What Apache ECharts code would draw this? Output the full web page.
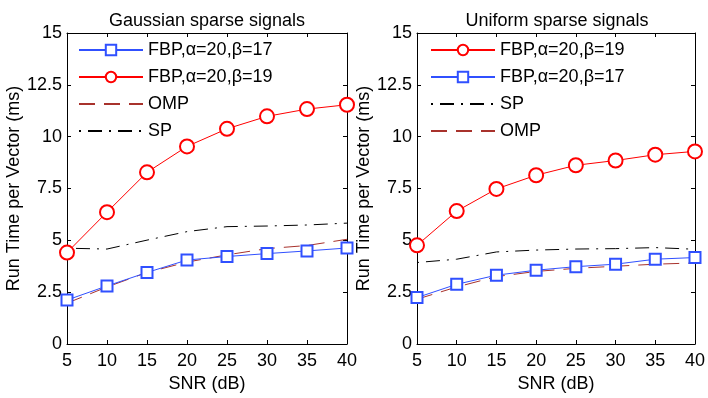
<!DOCTYPE html>
<html>
<head>
<meta charset="utf-8">
<script src="https://cdn.jsdelivr.net/npm/echarts@6/dist/echarts.min.js"></script>
<style>
    body{ margin:0; background:#fff; }
    #main{ width:708px; height:398px; }
</style>
</head>
<body>
<div id="main"></div>
<script>
// SNR values (dB), shared by both panels
var snr = [5, 10, 15, 20, 25, 30, 35, 40];

// Gaussian sparse signals (ms)
var gaussFbp17 = [2.12, 2.80, 3.45, 4.05, 4.22, 4.36, 4.49, 4.63];
var gaussFbp19 = [4.41, 6.36, 8.28, 9.53, 10.38, 10.98, 11.33, 11.54];
var gaussOmp   = [1.97, 2.75, 3.45, 3.95, 4.30, 4.60, 4.75, 5.05];
var gaussSp    = [4.62, 4.58, 5.01, 5.42, 5.66, 5.69, 5.74, 5.83];

// Uniform sparse signals (ms)
var uniFbp19 = [4.76, 6.41, 7.48, 8.14, 8.62, 8.85, 9.13, 9.29];
var uniFbp17 = [2.24, 2.88, 3.32, 3.56, 3.73, 3.85, 4.09, 4.17];
var uniSp    = [3.93, 4.09, 4.44, 4.53, 4.58, 4.60, 4.65, 4.57];
var uniOmp   = [2.16, 2.75, 3.25, 3.50, 3.65, 3.75, 3.85, 3.91];

var yTicks = [0, 2.5, 5, 7.5, 10, 12.5, 15];

var FONT = 'Liberation Sans';
var FS = 18;
var BLUE = '#3050ff', RED = '#ff0000', BROWN = '#a8322c', BLACK = '#000';

function pairs(ys){
    return snr.map(function(x, i){ return [x, ys[i]]; });
}

function mk(name, ys, idx, style){
    return {
        name: name,
        type: 'line',
        xAxisIndex: idx * 2,
        yAxisIndex: idx * 2,
        data: pairs(ys),
        animation: false,
        z: style.z || 2,
        lineStyle: { color: style.color, width: 1, type: style.dash || 'solid' },
        itemStyle: { color: style.color, borderWidth: 1 },
        emphasis: { disabled: true },
        symbol: style.symbol || 'none',
        symbolSize: style.size || 0,
        showSymbol: !!style.symbol
    };
}

var fbp17 = { color: BLUE, symbol: 'emptyRect', size: 11, z: 4 };
var fbp19 = { color: RED, symbol: 'emptyCircle', size: 14, z: 4 };
var omp = { color: BROWN, dash: [16, 9], z: 3 };
var sp = { color: BLACK, dash: [2, 7, 14, 7], z: 3 };

var grids = [
    { left: 67, right: 361, top: 33, bottom: 53 },
    { left: 417, right: 10, top: 33, bottom: 53 }
];

var black = { color: '#000' };
var xAxes = [], yAxes = [];
grids.forEach(function(g, i){
    xAxes.push({
        type: 'value', gridIndex: i, min: 5, max: 40, interval: 5,
        name: 'SNR (dB)', nameLocation: 'middle', nameGap: 31,
        nameTextStyle: { fontFamily: FONT, fontSize: FS, color: '#000' },
        axisLine: { onZero: false, lineStyle: black },
        axisTick: { inside: true, length: 4, lineStyle: black },
        axisLabel: { fontFamily: FONT, fontSize: FS, color: '#000', margin: 8 },
        splitLine: { show: false }
    });
    xAxes.push({
        type: 'value', gridIndex: i, min: 5, max: 40, interval: 5, position: 'top',
        axisLine: { onZero: false, lineStyle: black },
        axisTick: { inside: true, length: 4, lineStyle: black },
        axisLabel: { show: false }, splitLine: { show: false }
    });
    yAxes.push({
        type: 'value', gridIndex: i, min: 0, max: 15, interval: 2.5,
        name: 'Run Time per Vector (ms)', nameLocation: 'middle', nameGap: 43,
        nameTextStyle: { fontFamily: FONT, fontSize: FS, color: '#000' },
        axisLine: { show: true, lineStyle: black },
        axisTick: { show: true, inside: true, length: 4, lineStyle: black },
        axisLabel: {
            fontFamily: FONT, fontSize: FS, color: '#000', margin: 5,
            formatter: function(v){ return yTicks.indexOf(v) >= 0 ? String(v) : ''; }
        },
        splitLine: { show: false }
    });
    yAxes.push({
        type: 'value', gridIndex: i, min: 0, max: 15, interval: 2.5, position: 'right',
        axisLine: { show: true, lineStyle: black },
        axisTick: { show: true, inside: true, length: 4, lineStyle: black },
        axisLabel: { show: false }, splitLine: { show: false }
    });
});

var legendText = { fontFamily: FONT, fontSize: FS, color: '#000' };
var noDot = { itemStyle: { opacity: 0 } };

function legendItems(names){
    return names.map(function(n){
        var item = { name: n };
        if (n.trim() === 'OMP' || n.trim() === 'SP') item.itemStyle = noDot.itemStyle;
        return item;
    });
}

var chart = echarts.init(document.getElementById('main'));
chart.setOption({
    backgroundColor: '#fff',
    animation: false,
    title: [
        { text: 'Gaussian sparse signals', left: 207, top: 12, padding: 0, textAlign: 'center',
          textStyle: { fontFamily: FONT, fontSize: FS, fontWeight: 'normal', color: '#000' } },
        { text: 'Uniform sparse signals', left: 557, top: 12, padding: 0, textAlign: 'center',
          textStyle: { fontFamily: FONT, fontSize: FS, fontWeight: 'normal', color: '#000' } }
    ],
    legend: [
        { orient: 'vertical', left: 73, top: 36, itemWidth: 64, itemHeight: 13, itemGap: 9,
          textStyle: legendText, selectedMode: false,
          data: legendItems(['FBP,α=20,β=17 ', 'FBP,α=20,β=19 ', 'OMP ', 'SP ']) },
        { orient: 'vertical', left: 425, top: 36, itemWidth: 64, itemHeight: 13, itemGap: 9,
          textStyle: legendText, selectedMode: false,
          data: legendItems(['FBP,α=20,β=19', 'FBP,α=20,β=17', 'SP', 'OMP']) }
    ],
    grid: grids,
    xAxis: xAxes,
    yAxis: yAxes,
    series: [
        mk('FBP,α=20,β=17 ', gaussFbp17, 0, fbp17),
        mk('FBP,α=20,β=19 ', gaussFbp19, 0, fbp19),
        mk('OMP ', gaussOmp, 0, omp),
        mk('SP ', gaussSp, 0, sp),
        mk('FBP,α=20,β=19', uniFbp19, 1, fbp19),
        mk('FBP,α=20,β=17', uniFbp17, 1, fbp17),
        mk('SP', uniSp, 1, sp),
        mk('OMP', uniOmp, 1, omp)
    ]
});
</script>
</body>
</html>
